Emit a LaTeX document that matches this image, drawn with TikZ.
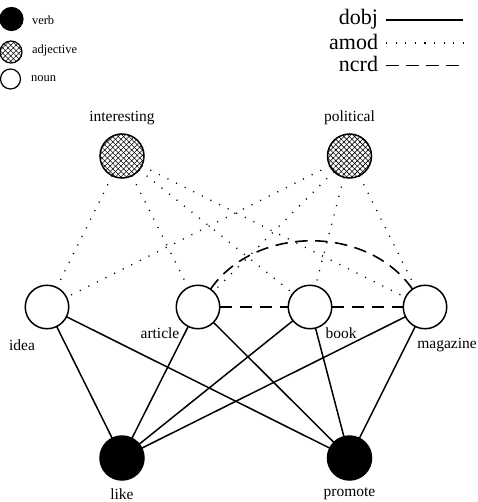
\documentclass[tikz,border=0pt]{standalone}
\usepackage{fontspec}
\setmainfont{Liberation Serif}
\usetikzlibrary{patterns.meta}
\begin{document}
\begin{tikzpicture}[x=1pt,y=1pt,
  every node/.style={inner sep=0pt, outer sep=0pt},
  word/.style={font=\fontsize{15.5}{16}\selectfont},
  legword/.style={font=\fontsize{12.5}{13}\selectfont, anchor=west},
  relword/.style={font=\fontsize{22}{22}\selectfont, anchor=base east},
  noun/.style={circle,draw,line width=1.5pt,minimum size=43.5pt,fill=white},
  verbn/.style={circle,draw,fill=black,line width=1.5pt,minimum size=44pt},
  adj/.style={circle,draw,line width=1.5pt,minimum size=44pt,
    pattern={Lines[angle=45,distance=3.8pt,line width=0.55pt]},
    postaction={pattern={Lines[angle=-45,distance=3.8pt,line width=0.55pt]}}},
  dobjline/.style={line width=1.5pt},
  amodline/.style={line width=1.3pt,dash pattern=on 1.1pt off 8.5pt},
  ncrdline/.style={line width=1.6pt,dash pattern=on 12.5pt off 7.5pt},
]
\useasboundingbox (0,0) rectangle (477,-502);

% legend
\node[verbn, minimum size=23pt, line width=1.2pt] (lv) at (11.5,-19) {};
\node[legword] (lvt) at (32,-20) {verb};
\node[adj, minimum size=22pt, line width=1.2pt] (la) at (11,-52) {};
\node[legword] (lat) at (32,-50) {adjective};
\node[noun, minimum size=20pt, line width=1.2pt] (ln) at (10.5,-79) {};
\node[legword] (lnt) at (31,-79) {noun};

\node[relword] (rd) at (378,-25) {dobj};
\node[relword] (ra) at (378,-50) {amod};
\node[relword] (rn) at (378,-72) {ncrd};
\coordinate (rd1) at (386,-20); \coordinate (rd2) at (463,-20);
\coordinate (ra1) at (386,-43); \coordinate (ra2) at (463,-43);
\coordinate (rn1) at (386,-65.5); \coordinate (rn2) at (463,-65.5);
\draw[dobjline] (rd1) -- (rd2);
\draw[amodline] (ra1) -- (ra2);
\draw[ncrdline] (rn1) -- (rn2);

% nodes
\node[adj] (interesting) at (122,-156) {};
\node[adj] (political) at (349.5,-156) {};
\node[noun] (idea) at (47,-307) {};
\node[noun] (article) at (198,-307) {};
\node[noun] (book) at (310,-307) {};
\node[noun] (magazine) at (425,-307) {};
\node[verbn] (like) at (122,-458) {};
\node[verbn] (promote) at (349.5,-458) {};

% labels
\node[word] (tinteresting) at (122,-118) {interesting};
\node[word] (tpolitical) at (349.5,-118) {political};
\node[word] (tidea) at (22,-345) {idea};
\node[word] (tarticle) at (160,-333) {article};
\node[word] (tbook) at (341,-333) {book};
\node[word] (tmagazine) at (447,-345) {magazine};
\node[word] (tlike) at (122,-494.5) {like};
\node[word] (tpromote) at (349.5,-494) {promote};

% amod
\foreach \a in {interesting,political}
  \foreach \n in {idea,article,book,magazine}
    \draw[amodline] (\a) -- (\n);

% ncrd
\draw[ncrdline] (article) -- (book);
\draw[ncrdline] (book) -- (magazine);
\draw[ncrdline] (article) to[out=55,in=125] (magazine);

% dobj
\foreach \v in {like,promote}
  \foreach \n in {idea,article,book,magazine}
    \draw[dobjline] (\n) -- (\v);
\end{tikzpicture}
\end{document}
